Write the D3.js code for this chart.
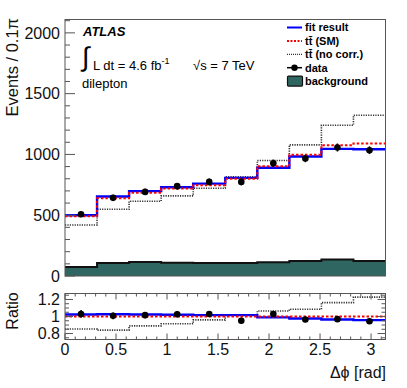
<!DOCTYPE html>
<html>
<head>
<meta charset="utf-8">
<script src="https://cdn.jsdelivr.net/npm/d3@7"></script>
<style>
  body { margin: 0; background: #fff; }
  svg text { font-family: "Liberation Sans", Arial, Helvetica, sans-serif; }
</style>
</head>
<body>
<div id="chart"></div>
<script>
// ---- data (10 bins of width 0.1*pi) ----
var nBins = 10
var fitVals = [500, 654, 698, 730, 760, 807, 890, 983, 1046, 1043]
var smVals = [491, 640, 684, 720, 747, 800, 903, 997, 1076, 1090]
var noCorrVals = [420, 549, 615, 659, 722, 816, 950, 1079, 1240, 1322]
var dataVals = [508, 643, 692, 739, 774, 774, 928, 967, 1057, 1035]
var dataErr = [22, 25, 26, 27, 28, 28, 30, 31, 33, 32]
var bkgVals = [74, 107, 115, 110, 107, 107, 113, 124, 135, 124]

var ratioFit = [1.023, 1.027, 1.023, 1.020, 1.016, 1.016, 0.990, 0.977, 0.965, 0.957]
var ratioSM = [1.0, 1.0, 1.0, 1.0, 1.0, 1.0, 1.0, 1.0, 1.0, 1.0]
var ratioNoCorr = [0.853, 0.840, 0.890, 0.915, 0.960, 1.016, 1.065, 1.085, 1.163, 1.228]
var ratioData = [1.030, 1.008, 1.016, 1.027, 1.030, 0.950, 1.030, 0.965, 0.969, 0.945]
var ratioErr = [0.045, 0.04, 0.038, 0.037, 0.036, 0.036, 0.033, 0.032, 0.031, 0.031]

var mainTicks = [0, 500, 1000, 1500, 2000]
var ratioTicks = [0.8, 1, 1.2]
var xTicks = [0, 0.5, 1, 1.5, 2, 2.5, 3]

var W = 407, H = 388
var svg = d3.select("#chart").append("svg").attr("width", W).attr("height", H)

var left = 65, right = 385.5
var x = d3.scaleLinear().domain([0, Math.PI]).range([left, right])
var yMain = d3.scaleLinear().domain([0, 2110]).range([276, 19.5])
var yRat = d3.scaleLinear().domain([0.73, 1.27]).range([339.5, 293.5])

var binW = Math.PI / nBins
function edges(i) { return i * binW }
function centers(i) { return (i + 0.5) * binW }

// step points: one per bin edge, last value repeated
function stepPts(vals) {
  var p = vals.map(function (v, i) { return [edges(i), v] })
  p.push([edges(nBins), vals[nBins - 1]])
  return p
}

var axisCol = "#555"
var teal = "#2f6661"

// ---------------- main panel ----------------
var gm = svg.append("g")

var bkgArea = d3.area()
  .x(function (d) { return x(d[0]) })
  .y0(yMain(0))
  .y1(function (d) { return yMain(d[1]) })
  .curve(d3.curveStepAfter)
gm.append("path").attr("d", bkgArea(stepPts(bkgVals))).attr("fill", teal)

function stepLine(ys) {
  return d3.line()
    .x(function (d) { return x(d[0]) })
    .y(function (d) { return ys(d[1]) })
    .curve(d3.curveStepAfter)
}
gm.append("path").attr("d", stepLine(yMain)(stepPts(bkgVals)))
  .attr("fill", "none").attr("stroke", "#111").attr("stroke-width", 2)

gm.append("path").attr("d", stepLine(yMain)(stepPts(noCorrVals)))
  .attr("fill", "none").attr("stroke", "#333").attr("stroke-width", 1.6)
  .attr("stroke-dasharray", "1.2,1.2")
gm.append("path").attr("d", stepLine(yMain)(stepPts(fitVals)))
  .attr("fill", "none").attr("stroke", "#0000ff").attr("stroke-width", 2.4)
gm.append("path").attr("d", stepLine(yMain)(stepPts(smVals)))
  .attr("fill", "none").attr("stroke", "#ff0000").attr("stroke-width", 2)
  .attr("stroke-dasharray", "2.5,2")

// data
dataVals.forEach(function (v, i) {
  var cx = x(centers(i))
  gm.append("line").attr("x1", cx).attr("x2", cx)
    .attr("y1", yMain(v - dataErr[i])).attr("y2", yMain(v + dataErr[i]))
    .attr("stroke", "#000").attr("stroke-width", 1.5)
  gm.append("circle").attr("cx", cx).attr("cy", yMain(v)).attr("r", 3.3).attr("fill", "#000")
})

// frame
gm.append("rect").attr("x", left).attr("y", 19.5).attr("width", right - left).attr("height", 276 - 19.5)
  .attr("fill", "none").attr("stroke", axisCol).attr("stroke-width", 1)

// left ticks (inward)
d3.range(0, 2101, 100).forEach(function (t) {
  var major = t % 500 === 0
  gm.append("line").attr("x1", left).attr("x2", left + (major ? 10 : 5))
    .attr("y1", yMain(t)).attr("y2", yMain(t)).attr("stroke", axisCol)
})
mainTicks.forEach(function (t) {
  gm.append("text").attr("x", 60).attr("y", yMain(t)).attr("dy", "0.36em")
    .attr("text-anchor", "end").attr("font-size", 16).attr("fill", "#111").text(t)
})

gm.append("text").attr("transform", "translate(18,18) rotate(-90)")
  .attr("text-anchor", "end").attr("font-size", 16.5).attr("fill", "#111").text("Events / 0.1\u03c0")

// labels
gm.append("text").attr("x", 83).attr("y", 36).attr("font-size", 13)
  .attr("font-weight", "bold").attr("font-style", "italic").text("ATLAS")
gm.append("text").attr("x", 82).attr("y", 66).attr("font-size", 27)
  .text("\u222b")
var lum = gm.append("text").attr("x", 93).attr("y", 70).attr("font-size", 13)
lum.append("tspan").text("L dt = 4.6 fb")
lum.append("tspan").attr("dy", -6).attr("font-size", 9).text("-1")
gm.append("text").attr("x", 193).attr("y", 70).attr("font-size", 13).text("\u221as = 7 TeV")
gm.append("text").attr("x", 82).attr("y", 88).attr("font-size", 13).text("dilepton")

// legend
var legY0 = 27.5, legDy = 13.4
var lx0 = 287, lx1 = 302, ltx = 305
var leg = [
  { label: "fit result", kind: "blue" },
  { label: "t\u0074\u0304 (SM)", kind: "red" },
  { label: "t\u0074\u0304 (no corr.)", kind: "gray" },
  { label: "data", kind: "data" },
  { label: "background", kind: "bkg" }
]
leg.forEach(function (d, i) {
  var yy = legY0 + i * legDy
  if (d.kind === "blue") {
    gm.append("line").attr("x1", lx0).attr("x2", lx1).attr("y1", yy).attr("y2", yy)
      .attr("stroke", "#0000ff").attr("stroke-width", 2)
  } else if (d.kind === "red") {
    gm.append("line").attr("x1", lx0).attr("x2", lx1).attr("y1", yy).attr("y2", yy)
      .attr("stroke", "#ff0000").attr("stroke-width", 2).attr("stroke-dasharray", "2,1.5")
  } else if (d.kind === "gray") {
    gm.append("line").attr("x1", lx0).attr("x2", lx1).attr("y1", yy).attr("y2", yy)
      .attr("stroke", "#333").attr("stroke-width", 1.2).attr("stroke-dasharray", "1,1")
  } else if (d.kind === "data") {
    gm.append("line").attr("x1", lx0).attr("x2", lx1).attr("y1", yy).attr("y2", yy)
      .attr("stroke", "#000").attr("stroke-width", 1.5)
    gm.append("circle").attr("cx", (lx0 + lx1) / 2).attr("cy", yy).attr("r", 3.2).attr("fill", "#000")
  } else {
    gm.append("rect").attr("x", lx0 + 0.5).attr("y", yy - 5).attr("width", 15).attr("height", 10)
      .attr("rx", 1).attr("fill", teal).attr("stroke", "#111").attr("stroke-width", 1.2)
  }
  gm.append("text").attr("x", ltx).attr("y", yy).attr("dy", "0.36em").attr("font-size", 11)
    .attr("font-weight", "bold").text(d.label)
})

// ---------------- ratio panel ----------------
var gr = svg.append("g")
var rTop = yRat.range()[1], rBot = yRat.range()[0]

gr.append("path").attr("d", stepLine(yRat)(stepPts(ratioNoCorr)))
  .attr("fill", "none").attr("stroke", "#333").attr("stroke-width", 1.6)
  .attr("stroke-dasharray", "1.2,1.2")
gr.append("path").attr("d", stepLine(yRat)(stepPts(ratioFit)))
  .attr("fill", "none").attr("stroke", "#0000ff").attr("stroke-width", 2.4)
gr.append("path").attr("d", stepLine(yRat)(stepPts(ratioSM)))
  .attr("fill", "none").attr("stroke", "#ff0000").attr("stroke-width", 2)
  .attr("stroke-dasharray", "2.5,2")

ratioData.forEach(function (v, i) {
  var cx = x(centers(i))
  gr.append("line").attr("x1", cx).attr("x2", cx)
    .attr("y1", yRat(v - ratioErr[i])).attr("y2", yRat(v + ratioErr[i]))
    .attr("stroke", "#000").attr("stroke-width", 1.5)
  gr.append("circle").attr("cx", cx).attr("cy", yRat(v)).attr("r", 3.3).attr("fill", "#000")
})

gr.append("rect").attr("x", left).attr("y", rTop).attr("width", right - left).attr("height", rBot - rTop)
  .attr("fill", "none").attr("stroke", axisCol).attr("stroke-width", 1)

// x ticks top and bottom
d3.range(0, 32).forEach(function (k) {
  var t = k / 10
  var major = k % 5 === 0
  var len = major ? 6 : 3
  gr.append("line").attr("x1", x(t)).attr("x2", x(t)).attr("y1", rBot).attr("y2", rBot - len).attr("stroke", axisCol)
  gr.append("line").attr("x1", x(t)).attr("x2", x(t)).attr("y1", rTop).attr("y2", rTop + len).attr("stroke", axisCol)
})
xTicks.forEach(function (t) {
  gr.append("text").attr("x", x(t)).attr("y", 355).attr("text-anchor", "middle")
    .attr("font-size", 16).attr("fill", "#111").text(t)
})
// y ticks left and right
d3.range(0.75, 1.26, 0.05).forEach(function (t) {
  var major = [0.8, 1, 1.2].some(function (m) { return Math.abs(m - t) < 1e-6 })
  var len = major ? 8 : 4
  gr.append("line").attr("x1", left).attr("x2", left + len).attr("y1", yRat(t)).attr("y2", yRat(t)).attr("stroke", axisCol)
  gr.append("line").attr("x1", right).attr("x2", right - len).attr("y1", yRat(t)).attr("y2", yRat(t)).attr("stroke", axisCol)
})
ratioTicks.forEach(function (t) {
  gr.append("text").attr("x", 60).attr("y", yRat(t)).attr("dy", "0.36em")
    .attr("text-anchor", "end").attr("font-size", 16).attr("fill", "#111").text(t)
})

gr.append("text").attr("transform", "translate(18,311) rotate(-90)")
  .attr("text-anchor", "middle").attr("font-size", 16).attr("fill", "#111").text("Ratio")
gr.append("text").attr("x", 386).attr("y", 378).attr("text-anchor", "end")
  .attr("font-size", 16).attr("fill", "#111").text("\u0394\u03d5 [rad]")
</script>
</body>
</html>
